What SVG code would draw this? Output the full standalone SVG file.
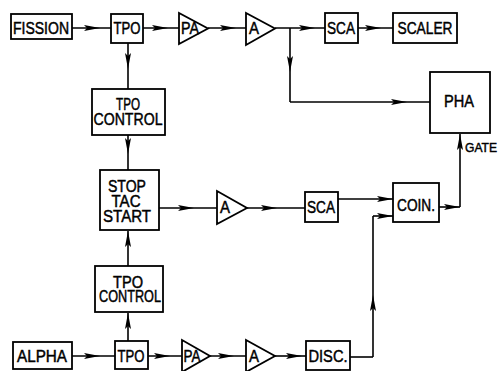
<svg xmlns="http://www.w3.org/2000/svg" width="502" height="371" viewBox="0 0 502 371">
<defs>
<marker id="ah" viewBox="0 0 16 6" refX="16" refY="3" markerWidth="16" markerHeight="6" markerUnits="userSpaceOnUse" orient="auto">
<path d="M0,0 L16,3 L0,6 L3,3 Z" fill="#000"/>
</marker>
</defs>
<style>
.n rect,.n polygon{fill:#fff;stroke:#000;stroke-width:1.8}
text{font-family:"Liberation Sans",Arial,sans-serif;font-size:16px;fill:#000;stroke:#000;stroke-width:0.45;text-anchor:middle}
text.g{font-size:13px;text-anchor:start}
.c path{fill:none;stroke:#000;stroke-width:1.6}
.m{marker-mid:url(#ah)}
.e{marker-end:url(#ah)}
</style>
<rect width="502" height="371" fill="#fff"/>
<g class="c" id="connectors">
<path class="m" d="M72,28 L100,28 L111,28"/>
<path class="m" d="M143,28 L168,28 L179,28"/>
<path class="m" d="M208,28 L236,28 L246,28"/>
<path class="m" d="M275,28 L315,28 L325,28"/>
<path class="m" d="M358,28 L381,28 L393,28"/>
<path class="m" d="M290,28 L290,72 L290,102"/>
<path class="m" d="M290,102 L407,102 L430,102"/>
<path class="m" d="M128,43 L128,69 L128,89"/>
<path class="m" d="M128,135 L128,154 L128,170"/>
<path class="m" d="M159,208 L194,208 L217,208"/>
<path class="m" d="M247,208 L277,208 L305,208"/>
<path class="e" d="M338,199 L393,199"/>
<path d="M350,357 L373,357"/>
<path class="m" d="M373,357 L373,295 L373,216"/>
<path class="e" d="M373,216 L393,216"/>
<path class="e" d="M439,207 L460,207"/>
<path class="e" d="M460,207 L460,134"/>
<path class="m" d="M72,356 L100,356 L115,356"/>
<path class="m" d="M148,356 L170,356 L182,356"/>
<path class="m" d="M210,356 L234,356 L246,356"/>
<path class="m" d="M275,356 L302,356 L306,356"/>
<path class="e" d="M128,341 L128,313"/>
<path class="e" d="M128,266 L128,231"/>
</g>
<g class="n" id="fission"><rect x="11" y="14" width="61" height="25"/><text x="41" y="34" textLength="56" lengthAdjust="spacingAndGlyphs">FISSION</text></g>
<g class="n" id="tpo-top"><rect x="111" y="14" width="32" height="29"/><text x="127" y="34" textLength="27" lengthAdjust="spacingAndGlyphs">TPO</text></g>
<g class="n" id="pa-top"><polygon points="179,13 179,44 208,28.5"/><text x="190" y="34" textLength="18" lengthAdjust="spacingAndGlyphs">PA</text></g>
<g class="n" id="a-top"><polygon points="246,13 246,45 275,28.5"/><text x="254" y="34" textLength="10" lengthAdjust="spacingAndGlyphs">A</text></g>
<g class="n" id="sca-top"><rect x="325" y="13" width="33" height="30"/><text x="341" y="34" textLength="28" lengthAdjust="spacingAndGlyphs">SCA</text></g>
<g class="n" id="scaler"><rect x="393" y="13" width="64" height="30"/><text x="425" y="34" textLength="55" lengthAdjust="spacingAndGlyphs">SCALER</text></g>
<g class="n" id="pha"><rect x="430" y="72" width="60" height="61"/><text x="459" y="107" textLength="30" lengthAdjust="spacingAndGlyphs">PHA</text></g>
<g class="n" id="tpo-control-top"><rect x="92" y="89" width="73" height="46"/><text x="128" y="110" textLength="24" lengthAdjust="spacingAndGlyphs">TPO</text><text x="128" y="125" textLength="69" lengthAdjust="spacingAndGlyphs">CONTROL</text></g>
<g class="n" id="tac"><rect x="100" y="170" width="59" height="60"/><text x="127" y="192" textLength="38" lengthAdjust="spacingAndGlyphs">STOP</text><text x="126" y="207" textLength="29" lengthAdjust="spacingAndGlyphs">TAC</text><text x="127" y="222" textLength="48" lengthAdjust="spacingAndGlyphs">START</text></g>
<g class="n" id="a-mid"><polygon points="217,191 217,224 247,208"/><text x="225" y="213" textLength="10" lengthAdjust="spacingAndGlyphs">A</text></g>
<g class="n" id="sca-mid"><rect x="305" y="192" width="33" height="30"/><text x="321" y="213" textLength="28" lengthAdjust="spacingAndGlyphs">SCA</text></g>
<g class="n" id="coin"><rect x="393" y="183" width="46" height="39"/><text x="416" y="211" textLength="38" lengthAdjust="spacingAndGlyphs">COIN.</text></g>
<g id="gate-label"><text class="g" x="465" y="152" textLength="32" lengthAdjust="spacingAndGlyphs">GATE</text></g>
<g class="n" id="tpo-control-bottom"><rect x="95" y="266" width="68" height="46"/><text x="128" y="288" textLength="30" lengthAdjust="spacingAndGlyphs">TPO</text><text x="130" y="302" textLength="62" lengthAdjust="spacingAndGlyphs">CONTROL</text></g>
<g class="n" id="alpha"><rect x="13" y="342" width="59" height="27"/><text x="42" y="362" textLength="50" lengthAdjust="spacingAndGlyphs">ALPHA</text></g>
<g class="n" id="tpo-bottom"><rect x="115" y="341" width="33" height="28"/><text x="131" y="362" textLength="27" lengthAdjust="spacingAndGlyphs">TPO</text></g>
<g class="n" id="pa-bottom"><polygon points="182,340 182,372 210,356"/><text x="192" y="362" textLength="17" lengthAdjust="spacingAndGlyphs">PA</text></g>
<g class="n" id="a-bottom"><polygon points="246,340 246,372 275,356"/><text x="254" y="362" textLength="10" lengthAdjust="spacingAndGlyphs">A</text></g>
<g class="n" id="disc"><rect x="306" y="341" width="44" height="29"/><text x="328" y="362" textLength="39" lengthAdjust="spacingAndGlyphs">DISC.</text></g>
</svg>
